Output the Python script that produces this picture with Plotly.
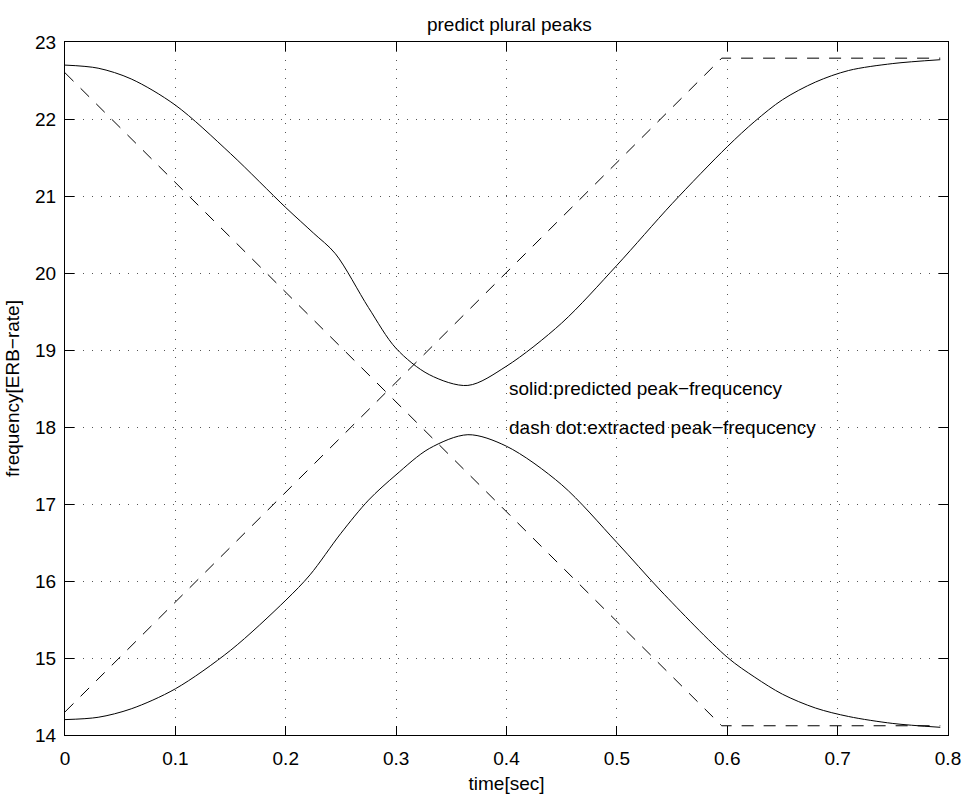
import plotly.graph_objects as go

# ---- data ----
t_upper = [0.0, 0.03, 0.06, 0.1, 0.15, 0.2, 0.225, 0.245, 0.275, 0.3, 0.33, 0.365, 0.4, 0.45, 0.5, 0.55, 0.6, 0.625, 0.65, 0.68, 0.71, 0.75, 0.793]
f_upper = [22.70, 22.66, 22.52, 22.18, 21.55, 20.85, 20.52, 20.25, 19.55, 19.02, 18.68, 18.54, 18.79, 19.35, 20.10, 20.90, 21.64, 21.97, 22.25, 22.48, 22.63, 22.72, 22.77]

t_lower = [0.0, 0.03, 0.06, 0.1, 0.15, 0.2, 0.222, 0.25, 0.275, 0.3, 0.33, 0.365, 0.4, 0.45, 0.5, 0.54, 0.6, 0.625, 0.65, 0.68, 0.71, 0.75, 0.793]
f_lower = [14.20, 14.23, 14.34, 14.60, 15.10, 15.75, 16.08, 16.62, 17.05, 17.38, 17.72, 17.90, 17.75, 17.25, 16.50, 15.87, 15.01, 14.75, 14.53, 14.35, 14.24, 14.15, 14.10]

t_dash_down = [0.0, 0.595, 0.793]
f_dash_down = [22.60, 14.12, 14.12]

t_dash_up = [0.0, 0.595, 0.793]
f_dash_up = [14.30, 22.79, 22.79]

title_text = "predict plural peaks"
x_label = "time[sec]"
y_label = "frequency[ERB\u2212rate]"
note_solid = "solid:predicted peak\u2212frequcency"
note_dash = "dash dot:extracted peak\u2212frequcency"

FONT = "Liberation Sans, Arial, Helvetica, sans-serif"
FS = 19

fig = go.Figure()
for tx, fy in [(t_upper, f_upper), (t_lower, f_lower)]:
    fig.add_trace(go.Scatter(x=tx, y=fy, mode="lines",
                             line=dict(color="black", width=1, shape="spline", smoothing=0.9),
                             showlegend=False, hoverinfo="skip"))
for tx, fy in [(t_dash_down, f_dash_down), (t_dash_up, f_dash_up)]:
    fig.add_trace(go.Scatter(x=tx, y=fy, mode="lines",
                             line=dict(color="black", width=1, dash="12px,10px"),
                             showlegend=False, hoverinfo="skip"))

fig.add_annotation(x=0.4, y=18.5, text=note_solid, showarrow=False, xanchor="left", yanchor="middle",
                   font=dict(family=FONT, size=FS, color="black"))
fig.add_annotation(x=0.4, y=18.0, text=note_dash, showarrow=False, xanchor="left", yanchor="middle",
                   font=dict(family=FONT, size=FS, color="black"))

axis_common = dict(showline=True, linecolor="black", linewidth=1, mirror="ticks", ticks="inside", ticklen=9,
                   tickcolor="black", tickwidth=1, showgrid=True, gridcolor="#555", griddash="1px,8px",
                   gridwidth=1, zeroline=False, tickfont=dict(family=FONT, size=FS, color="black"))

fig.update_xaxes(range=[0, 0.8], dtick=0.1, tick0=0, ticklabelstandoff=6,
                 title=dict(text=x_label, font=dict(family=FONT, size=FS, color="black"), standoff=8),
                 **axis_common)
fig.update_yaxes(range=[14, 23], dtick=1, tick0=14, ticklabelstandoff=4,
                 title=dict(text=y_label, font=dict(family=FONT, size=FS, color="black"), standoff=10),
                 **axis_common)

fig.update_layout(
    width=973, height=802,
    margin=dict(l=64, r=18, t=42, b=56),
    paper_bgcolor="white", plot_bgcolor="white",
    title=dict(text=title_text, x=0.5235, xanchor="center", y=1 - 24 / 802, yanchor="middle",
               font=dict(family=FONT, size=FS, color="black")),
)

fig.write_html("out.html")
